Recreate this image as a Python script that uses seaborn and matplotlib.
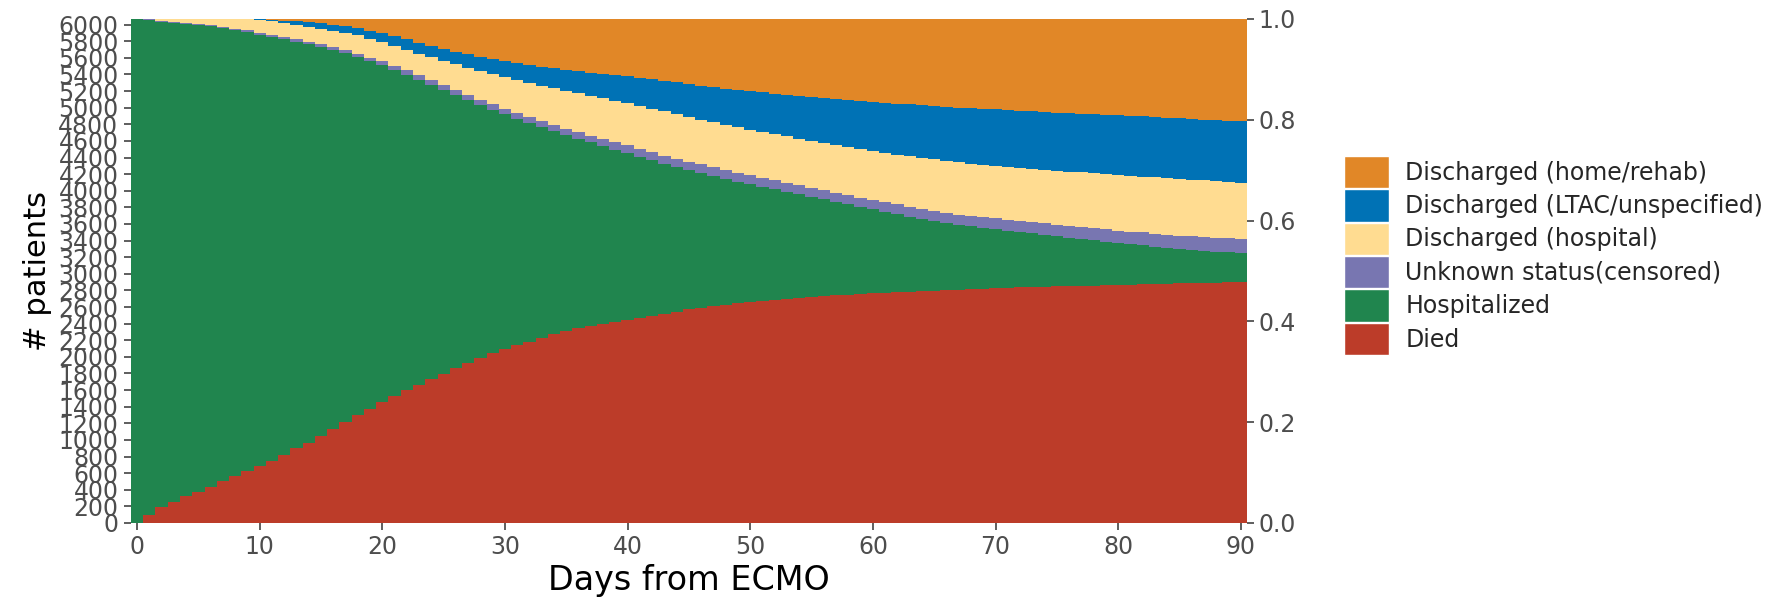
# Estado de pacientes tras ECMO, días 0-90 (barras apiladas por día)

import numpy as np
import pandas as pd
import matplotlib
matplotlib.use('Agg')
import matplotlib.pyplot as plt
from matplotlib.patches import Patch
from matplotlib.ticker import FormatStrFormatter
import seaborn as sns

# --- DATOS (proporción por día, en tanto por mil) ---
N_PATIENTS = 6068
days = list(range(0, 91))

died_pm = [0, 16, 31, 42, 53, 62, 72, 83, 93, 103,
           113, 123, 135, 148, 159, 172, 187, 200, 214, 227,
           240, 252, 263, 274, 285, 296, 307, 318, 328, 337,
           346, 353, 360, 367, 374, 381, 386, 391, 395, 399,
           403, 407, 411, 415, 419, 424, 427, 430, 433, 436,
           438, 440, 442, 445, 447, 449, 450, 452, 453, 455,
           456, 457, 458, 459, 460, 461, 462, 463, 464, 465,
           466, 467, 468, 468, 469, 470, 470, 471, 471, 472,
           473, 473, 474, 474, 475, 476, 476, 477, 477, 478,
           479]

hosp_pm = [1000, 982, 964, 951, 938, 927, 914, 899, 885, 871,
           856, 841, 825, 807, 791, 773, 752, 732, 710, 689,
           668, 647, 626, 605, 584, 563, 542, 521, 501, 483,
           465, 449, 434, 418, 403, 388, 376, 364, 353, 342,
           331, 320, 309, 298, 287, 276, 267, 258, 249, 241,
           234, 227, 220, 212, 205, 198, 192, 185, 179, 172,
           166, 160, 155, 149, 144, 139, 134, 129, 125, 121,
           117, 113, 109, 107, 103, 99, 96, 93, 90, 86,
           82, 80, 77, 74, 71, 68, 66, 63, 61, 59,
           56]

cens_pm = [0, 1, 1, 2, 2, 2, 3, 3, 3, 4,
           4, 4, 5, 5, 5, 5, 6, 6, 7, 7,
           8, 8, 9, 9, 9, 10, 10, 10, 11, 11,
           11, 11, 12, 12, 12, 12, 13, 13, 14, 14,
           15, 15, 16, 16, 17, 17, 18, 18, 18, 18,
           18, 18, 18, 18, 18, 18, 18, 18, 18, 18,
           18, 19, 19, 19, 19, 19, 19, 20, 21, 21,
           22, 22, 22, 23, 23, 23, 24, 24, 24, 25,
           25, 25, 26, 26, 26, 26, 27, 27, 27, 28,
           28]

dhosp_pm = [0, 1, 4, 5, 7, 9, 11, 15, 19, 22,
            25, 28, 28, 28, 29, 31, 32, 35, 37, 38,
            38, 40, 41, 43, 46, 48, 51, 54, 57, 60,
            63, 66, 67, 71, 74, 77, 78, 80, 81, 83,
            84, 86, 86, 88, 88, 89, 88, 89, 90, 90,
            90, 91, 91, 92, 92, 93, 94, 95, 96, 97,
            98, 99, 99, 101, 102, 103, 104, 104, 103, 104,
            104, 105, 106, 105, 106, 107, 107, 108, 109, 109,
            110, 111, 110, 112, 112, 113, 112, 113, 113, 112,
            112]

dltac_pm = [0, 0, 0, 0, 0, 0, 0, 0, 0, 0,
            1, 2, 4, 8, 10, 11, 12, 13, 14, 16,
            18, 19, 21, 22, 23, 24, 25, 27, 28, 29,
            31, 33, 35, 37, 39, 41, 43, 45, 47, 50,
            53, 55, 58, 60, 63, 65, 68, 70, 72, 74,
            77, 79, 81, 83, 85, 87, 89, 91, 93, 95,
            97, 99, 101, 103, 104, 106, 107, 108, 110, 111,
            112, 112, 113, 114, 114, 115, 116, 116, 117, 118,
            119, 119, 120, 120, 120, 120, 121, 120, 121, 121,
            122]

dhome_pm = [0, 0, 0, 0, 0, 0, 0, 0, 0, 0,
            1, 2, 3, 4, 6, 8, 11, 14, 18, 23,
            28, 34, 40, 47, 53, 59, 65, 70, 75, 80,
            84, 88, 92, 95, 98, 101, 104, 107, 110, 112,
            114, 117, 120, 123, 126, 129, 132, 135, 138, 141,
            143, 145, 148, 150, 153, 155, 157, 159, 161, 163,
            165, 166, 168, 169, 171, 172, 174, 176, 177, 178,
            179, 181, 182, 183, 185, 186, 187, 188, 189, 190,
            191, 192, 193, 194, 196, 197, 198, 200, 201, 202,
            203]

status_order = ['Discharged (home/rehab)', 'Discharged (LTAC/unspecified)',
                'Discharged (hospital)', 'Unknown status(censored)',
                'Hospitalized', 'Died']
colors = ['#E18727', '#0072B5', '#FFDC91', '#7876B1', '#20854E', '#BC3C29']
y_ticks = list(range(0, 6001, 200))
prop_ticks = [0.0, 0.2, 0.4, 0.6, 0.8, 1.0]
x_ticks = [0, 10, 20, 30, 40, 50, 60, 70, 80, 90]

# --- TABLA LARGA ---
series = [dhome_pm, dltac_pm, dhosp_pm, cens_pm, hosp_pm, died_pm]
frames = []
for status, pm in zip(status_order, series):
    frames.append(pd.DataFrame({'day': days, 'status': status,
                                'n': np.array(pm) / 1000 * N_PATIENTS}))
df = pd.concat(frames, ignore_index=True)

# --- FIGURA ---
sns.set_style('ticks')
plt.rcParams['font.family'] = 'DejaVu Sans'

fig = plt.figure(figsize=(17.74, 5.99), dpi=100)
ax = fig.add_axes([0.0738, 0.1269, 0.6291, 0.8414])

sns.histplot(data=df, x='day', weights='n', hue='status', hue_order=status_order,
             palette=colors, multiple='stack', discrete=True, element='step',
             fill=True, alpha=1, linewidth=0, legend=False, ax=ax)

ax.set_xlim(-0.5, 90.5)
ax.set_ylim(0, N_PATIENTS)
ax.set_xticks(x_ticks)
ax.set_yticks(y_ticks)
ax.tick_params(axis='both', labelsize=17, colors='#333333', labelcolor='#4D4D4D',
               length=5, width=1.1, pad=4)
for s in ax.spines.values():
    s.set_visible(False)

ax.set_xlabel('Days from ECMO', fontsize=24, color='black')
ax.set_ylabel('# patients', fontsize=22, color='black')
ax.xaxis.set_label_coords(0.5, -0.115)
ax.xaxis.label.set_va('center')
ax.yaxis.set_label_coords(-0.084, 0.5)
ax.yaxis.label.set_va('center')

# eje derecho: proporción
ax2 = ax.twinx()
ax2.set_ylim(0, 1)
ax2.set_yticks(prop_ticks)
ax2.yaxis.set_major_formatter(FormatStrFormatter('%.1f'))
ax2.tick_params(axis='y', labelsize=17, colors='#333333', labelcolor='#4D4D4D',
                length=5, width=1.1, pad=3)
for s in ax2.spines.values():
    s.set_visible(False)

# leyenda
handles = [Patch(facecolor=c, edgecolor='white', linewidth=1) for c in colors]
fig.legend(handles, status_order, loc='upper left',
           bbox_to_anchor=(1344 / 1774, 1 - 156 / 599), frameon=False,
           fontsize=17, handlelength=1.9, handleheight=1.72, labelspacing=0.05,
           handletextpad=0.7, borderpad=0, borderaxespad=0)

fig.savefig('out.png', dpi=100)
plt.close()
print("Figura guardada.")
